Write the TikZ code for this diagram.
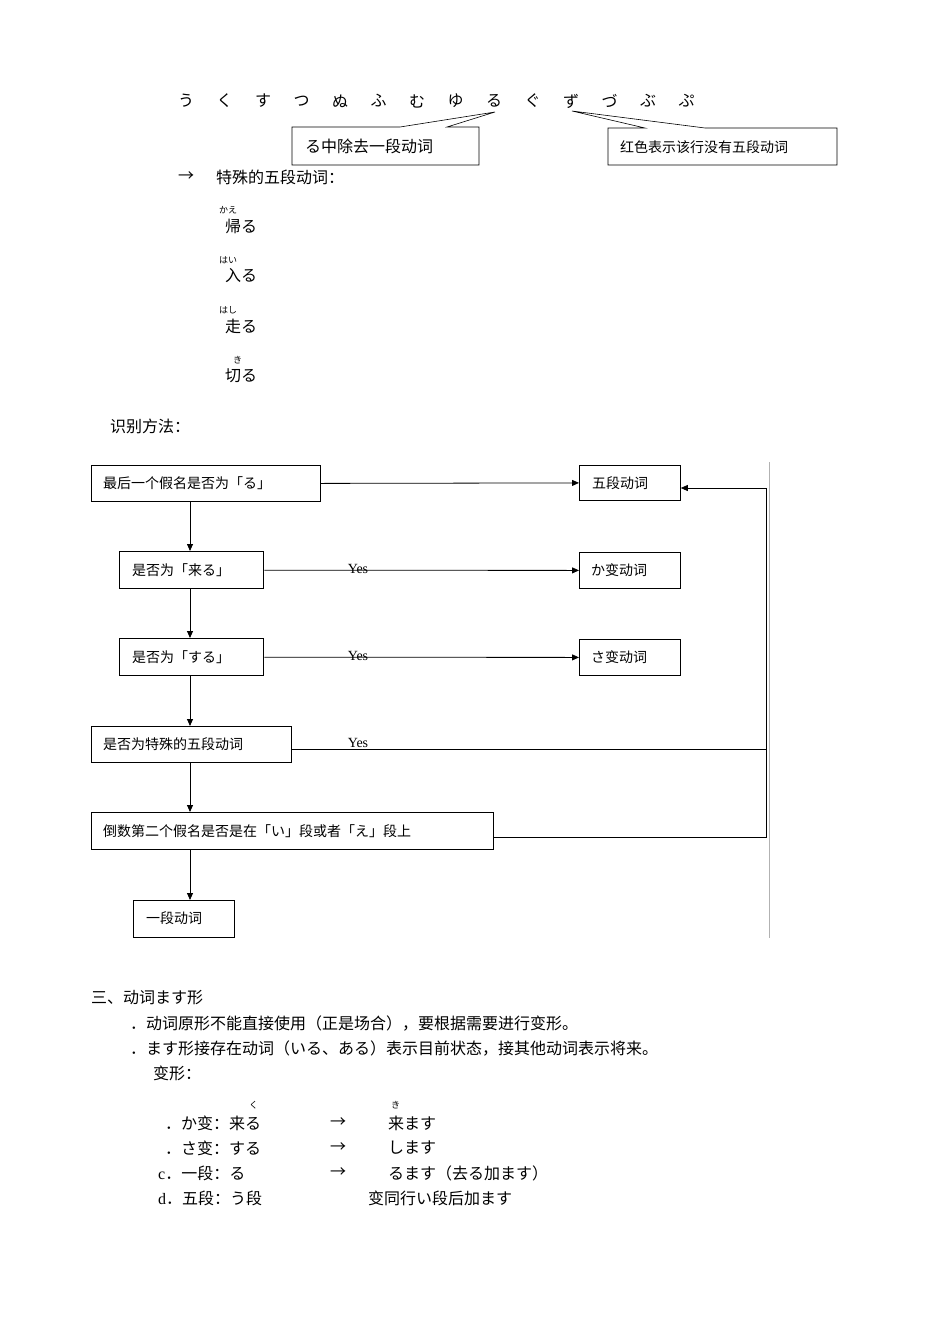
\documentclass[tikz,border=0pt]{standalone}
\usepackage{fontspec}
\setmainfont{Noto Sans CJK SC}
\newfontfamily\lat{Liberation Serif}
\usetikzlibrary{arrows.meta}
\begin{document}
\begin{tikzpicture}[x=1pt,y=-1pt,
  txt/.style={anchor=west,inner sep=0pt,font=\fontsize{16}{16}\selectfont},
  sm/.style={anchor=west,inner sep=0pt,font=\fontsize{14}{14}\selectfont},
  ruby/.style={anchor=west,inner sep=0pt,font=\fontsize{9}{9}\selectfont},
  fbox/.style={draw,line width=0.8pt,anchor=north west,inner sep=0pt,font=\fontsize{14}{14}\selectfont},
  arr/.style={-{Triangle[length=7pt,width=6pt]},line width=0.8pt},
  yes/.style={inner sep=0pt,font=\lat\fontsize{14}{14}\selectfont}]
\fill[white] (0,0) rectangle (950,1344);
\useasboundingbox (0,0) rectangle (950,1344);
% kana row
\foreach \k [count=\i from 0] in {う,く,す,つ,ぬ,ふ,む,ゆ,る,ぐ,ず,づ,ぶ,ぷ}
  \node[txt] (k\i) at (178+38.5*\i,101) {\k};
% callouts
\draw[line width=0.6pt,fill=white] (292,127) -- (400,127) -- (495,112) -- (447,127) -- (479,127) -- (479,165) -- (292,165) -- cycle;
\node[txt] (c1) at (305,146) {る中除去一段动词};
\draw[line width=0.6pt,fill=white] (608,128) -- (645,128) -- (572,111) -- (705,128) -- (837,128) -- (837,165) -- (608,165) -- cycle;
\node[sm] (c2) at (620,147) {红色表示该行没有五段动词};
\node[txt] (ar) at (178,177) {→};
\node[txt] (sp) at (216,177) {特殊的五段动词：};
\node[ruby] (r1) at (219,210) {かえ};\node[txt] (w1) at (225,226) {帰る};
\node[ruby] (r2) at (219,260) {はい};\node[txt] (w2) at (225,276) {入る};
\node[ruby] (r3) at (219,310) {はし};\node[txt] (w3) at (225,326) {走る};
\node[ruby] (r4) at (233,360) {き};\node[txt] (w4) at (225,376) {切る};
\node[txt] (sb) at (110,426) {识别方法：};
% flowchart
\node[fbox,minimum width=229,minimum height=36] (A) at (91,465) {};
\node[sm] at (103,483) {最后一个假名是否为「る」};
\node[fbox,minimum width=101,minimum height=35] (G5) at (579,465) {};
\node[sm] at (592,483) {五段动词};
\node[fbox,line width=1.4pt,minimum width=144,minimum height=37] (B) at (119,551) {};
\node[sm] at (132,570) {是否为「来る」};
\node[fbox,minimum width=101,minimum height=36] (K) at (579,552) {};
\node[sm] at (591,570) {か变动词};
\node[fbox,line width=1.4pt,minimum width=144,minimum height=37] (C) at (119,638) {};
\node[sm] at (132,657) {是否为「する」};
\node[fbox,minimum width=101,minimum height=36] (S) at (579,639) {};
\node[sm] at (591,657) {さ变动词};
\node[fbox,minimum width=200,minimum height=36] (D) at (91,726) {};
\node[sm] at (103,744) {是否为特殊的五段动词};
\node[fbox,minimum width=402,minimum height=37] (E) at (91,812) {};
\node[sm] at (103,831) {倒数第二个假名是否是在「い」段或者「え」段上};
\node[fbox,minimum width=101,minimum height=37] (F) at (133,900) {};
\node[sm] at (146,918) {一段动词};
\draw[arr] (A.east) -- (G5.west);
\draw[arr] (B.east) -- (K.west);
\draw[arr] (C.east) -- (S.west);
\node[yes] at (358,569) {Yes};
\node[yes] at (358,656) {Yes};
\node[yes] at (358,743) {Yes};
\draw[arr] (190,501) -- (190,551);
\draw[arr] (190,588) -- (190,638);
\draw[arr] (190,675) -- (190,726);
\draw[arr] (190,762) -- (190,812);
\draw[arr] (190,849) -- (190,900);
\coordinate (r1c) at (766,749);
\coordinate (r2c) at (766,837);
\coordinate (r3c) at (766,488);
\draw[line width=0.6pt] (D.east |- r1c) -- (r1c);
\draw[line width=0.8pt] (E.east |- r2c) -- (r2c) -- (r3c);
\draw[arr] (r3c) -- (G5.east |- r3c);
\draw[gray!60,line width=0.6pt] (769,462) -- (769,938);
% bottom text
\node[txt] (t0) at (91,998) {三、动词ます形};
\node[txt] (t1) at (130,1023) {．动词原形不能直接使用（正是场合），要根据需要进行变形。};
\node[txt] (t2) at (130,1048) {．ます形接存在动词（いる、ある）表示目前状态，接其他动词表示将来。};
\node[txt] (t3) at (153,1073) {变形：};
\node[ruby] (q1) at (249,1105) {く};
\node[ruby] (q2) at (391,1105) {き};
\node[txt] (l1) at (165,1123) {．か变：来る};
\node[txt] (l1b) at (330,1123) {→};
\node[txt] (l1c) at (388,1123) {来ます};
\node[txt] (l2) at (165,1148) {．さ变：する};
\node[txt] (l2b) at (330,1148) {→};
\node[txt] (l2c) at (388,1148) {します};
\node[txt] (l3) at (158,1173) {{\lat c}．一段：る};
\node[txt] (l3b) at (330,1173) {→};
\node[txt] (l3c) at (388,1173) {るます（去る加ます）};
\node[txt] (l4) at (158,1198) {{\lat d}．五段：う段};
\node[txt] (l4c) at (368,1198) {变同行い段后加ます};
\end{tikzpicture}
\end{document}
